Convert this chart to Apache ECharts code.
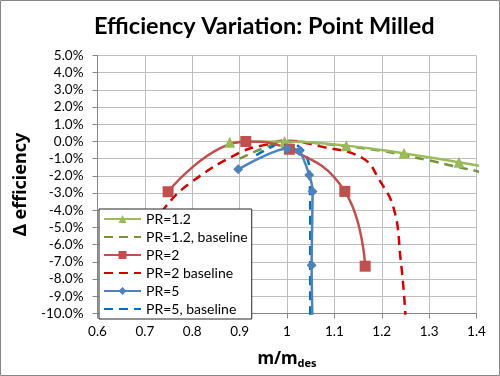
<!DOCTYPE html>
<html>
<head>
<meta charset="utf-8">
<script src="https://cdn.jsdelivr.net/npm/echarts@6/dist/echarts.min.js"></script>
<style>html,body{margin:0;padding:0;background:#fff}#c{width:500px;height:376px}</style>
</head>
<body>
<div id="c"></div>
<script>
// ---- data (x = m/m_des, y = Δ efficiency in %) ----
const titleText = 'Efficiency Variation: Point Milled';
const seriesNames = ['PR=1.2', 'PR=1.2, baseline', 'PR=2', 'PR=2 baseline', 'PR=5', 'PR=5, baseline'];
const xTicks = [0.6, 0.7, 0.8, 0.9, 1.0, 1.1, 1.2, 1.3, 1.4];
const yTicks = [-10, -9, -8, -7, -6, -5, -4, -3, -2, -1, 0, 1, 2, 3, 4, 5];

const pr12 = [[0.879, -0.05], [0.995, 0.0], [1.125, -0.24], [1.247, -0.69], [1.363, -1.21], [1.48, -1.75]];
const pr12Base = [[0.90, -1.0], [0.95, -0.4], [1.0, 0.0], [1.1, -0.2], [1.2, -0.55], [1.25, -0.82], [1.3, -1.1], [1.35, -1.42], [1.4, -1.72], [1.45, -2.05]];
const pr2 = [[0.749, -2.92], [0.913, 0.0], [1.005, -0.45], [1.122, -2.9], [1.165, -7.25]];
const pr2Base = [[0.72, -4.9], [0.742, -3.85], [0.795, -2.43], [0.9, -0.65], [0.956, -0.18], [0.998, 0.05], [1.068, -0.27], [1.159, -0.96], [1.195, -2.24], [1.226, -3.96], [1.24, -6.9], [1.247, -8.9], [1.251, -10.6]];
const pr5 = [[0.897, -1.62], [1.0, -0.4], [1.026, -0.55], [1.047, -1.95], [1.054, -2.9], [1.052, -7.2], [1.054, -10.8]];
const pr5Base = [[0.935, -0.8], [0.965, -0.35], [0.995, 0.0], [1.02, -0.2], [1.04, -0.8], [1.048, -2.0], [1.049, -5.0], [1.049, -10.8]];

const FONT = 'Lato, "Open Sans", sans-serif';
const NAMEFONT = '"Noto Sans", "DejaVu Sans", sans-serif';
const chart = echarts.init(document.getElementById('c'), null, {renderer: 'canvas'});

const solid = (name, data, color, symbol, size, smooth) => ({
  name, type: 'line', data, smooth, clip: true,
  symbol, symbolSize: size, showSymbol: true,
  lineStyle: {color, width: 2.5},
  itemStyle: {color, borderWidth: 0},
  emphasis: {disabled: true}, z: 3
});
const dashed = (name, data, color) => ({
  name, type: 'line', data, smooth: 0.45, clip: true,
  symbol: 'none', showSymbol: false,
  lineStyle: {color, width: 2.5, type: [9, 6]},
  itemStyle: {color},
  emphasis: {disabled: true}, z: 2
});

chart.setOption({
  animation: false,
  backgroundColor: '#fff',
  graphic: [{type: 'rect', shape: {x: 0.5, y: 0.5, width: 499, height: 375}, style: {fill: 'none', stroke: '#868686', lineWidth: 1}, z: 0}],
  title: {
    text: titleText, left: 89, top: 9,
    textStyle: {fontFamily: FONT, fontSize: 23.5, fontWeight: 'bold', color: '#000'}
  },
  grid: {left: 97.5, right: 23.5, top: 55.5, bottom: 62.5, containLabel: false},
  xAxis: {
    type: 'value', min: xTicks[0], max: xTicks[xTicks.length - 1], interval: 0.1,
    name: '{m|m/m}{s|des}', nameLocation: 'middle', nameGap: 36,
    nameTextStyle: {rich: {
      m: {fontFamily: NAMEFONT, fontSize: 17, fontWeight: 'bold', color: '#000'},
      s: {fontFamily: NAMEFONT, fontSize: 11, fontWeight: 'bold', color: '#000', verticalAlign: 'bottom', padding: [9, 0, 0, 0]}
    }},
    axisLine: {show: true, onZero: false, lineStyle: {color: '#868686'}},
    axisTick: {show: true, length: 5, lineStyle: {color: '#868686'}},
    axisLabel: {fontFamily: FONT, fontSize: 13.5, color: '#000', margin: 11,
      formatter: v => String(+v.toFixed(1))},
    splitLine: {show: true, lineStyle: {color: '#bfbfbf', width: 1}}
  },
  yAxis: {
    type: 'value', min: yTicks[0], max: yTicks[yTicks.length - 1], interval: 1,
    name: 'Δ efficiency', nameLocation: 'middle', nameGap: 53, nameRotate: 90,
    nameTextStyle: {fontFamily: NAMEFONT, fontSize: 18, fontWeight: 'bold', color: '#000'},
    axisLine: {show: true, onZero: false, lineStyle: {color: '#868686'}},
    axisTick: {show: true, length: 5, lineStyle: {color: '#868686'}},
    axisLabel: {fontFamily: FONT, fontSize: 13.5, color: '#000', margin: 14,
      formatter: v => v.toFixed(1) + '%'},
    splitLine: {show: true, lineStyle: {color: '#bfbfbf', width: 1}}
  },
  legend: {
    orient: 'vertical', left: 99, top: 209,
    data: seriesNames.map((n, i) => i % 2 === 1 ? {name: n, itemStyle: {opacity: 0}} : {name: n}),
    backgroundColor: '#fff', borderColor: '#262626', borderWidth: 1,
    padding: [3, 4, 3, 4],
    itemWidth: 37, itemHeight: 10, itemGap: 4,
    textStyle: {fontFamily: FONT, fontSize: 14, color: '#000'},
    z: 10
  },
  series: [
    solid(seriesNames[0], pr12, '#9bbb59', 'triangle', 11, 0.45),
    dashed(seriesNames[1], pr12Base, '#77933c'),
    solid(seriesNames[2], pr2, '#c0504d', 'rect', 11, 0.45),
    dashed(seriesNames[3], pr2Base, '#d00000'),
    solid(seriesNames[4], pr5, '#4f81bd', 'diamond', 10, 0.25),
    dashed(seriesNames[5], pr5Base, '#0070c0')
  ]
});
</script>
</body>
</html>
